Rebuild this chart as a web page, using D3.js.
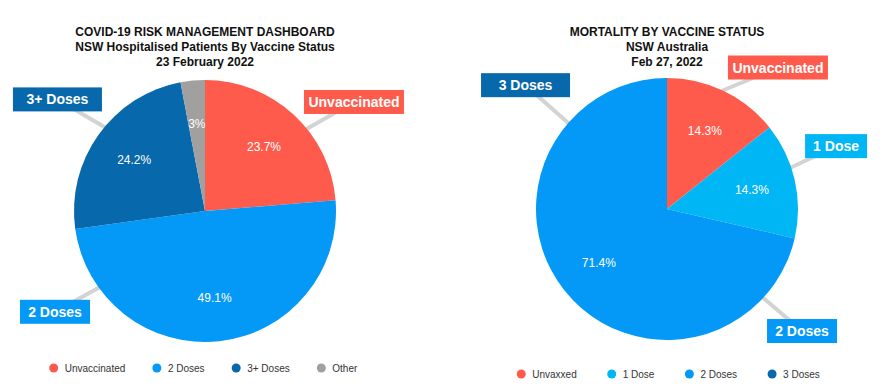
<!DOCTYPE html>
<html>
<head>
<meta charset="utf-8">
<script src="https://cdn.jsdelivr.net/npm/d3@7"></script>
<style>
  html, body { margin: 0; padding: 0; background: #fff; }
  svg { display: block; font-family: "Liberation Sans", Arial, Helvetica, sans-serif; }
</style>
</head>
<body>
<svg id="chart" width="885" height="392"></svg>
<script>
// ---------- DATA ----------
const leftTitle = ["COVID-19 RISK MANAGEMENT DASHBOARD", "NSW Hospitalised Patients By Vaccine Status", "23 February 2022"];
const leftCategories = ["Unvaccinated", "2 Doses", "3+ Doses", "Other"];
const leftValues = [23.7, 49.1, 24.2, 3];
const leftCallouts = ["Unvaccinated", "2 Doses", "3+ Doses", null];
const leftColors = ["#FF5B4D", "#0499F7", "#0868AC", "#A0A0A0"];

const rightTitle = ["MORTALITY BY VACCINE STATUS", "NSW Australia", "Feb 27, 2022"];
const rightCategories = ["Unvaxxed", "1 Dose", "2 Doses", "3 Doses"];
const rightValues = [14.3, 14.3, 71.4, 0];
const rightCallouts = ["Unvaccinated", "1 Dose", "2 Doses", "3 Doses"];
const rightColors = ["#FF5B4D", "#00B6F5", "#0499F7", "#0868AC"];

// ---------- LAYOUT (not data) ----------
const R = 131;
const leftLayout = {
  cx: 205, cy: 211, legendCx: 210, legendY: 368, legendGap: 31.6,
  // callout: anchor angle on rim (deg), box angle (deg), box radius, box width
  callout: [
    { a: 51, ba: 53.8, br: 184.6, w: 100 },
    { a: 234, ba: 236.1, br: 180.7, w: 70 },
    { a: 310, ba: 307.1, br: 185, w: 89 },
    null
  ]
};
const rightLayout = {
  cx: 667, cy: 209, legendCx: 675, legendY: 374, legendGap: 35,
  callout: [
    { a: 24.4, ba: 38.1, br: 179.8, w: 100 },
    { a: 71.6, ba: 69.6, br: 180.4, w: 62 },
    { a: 132.8, ba: 132.1, br: 182, w: 70 },
    { a: 311, ba: 311.2, br: 188, w: 89 }
  ]
};

const svg = d3.select("#chart");

function polar(cx, cy, r, deg) {
  const t = deg * Math.PI / 180;
  return [cx + r * Math.sin(t), cy - r * Math.cos(t)];
}

function drawPie(titleLines, cats, vals, callouts, colors, L) {
  const g = svg.append("g");
  // title
  const title = g.append("text")
    .attr("x", L.cx).attr("y", 36)
    .attr("text-anchor", "middle")
    .attr("font-size", 12).attr("font-weight", "bold").attr("fill", "#111");
  titleLines.forEach((t, i) => {
    title.append("tspan").attr("x", L.cx).attr("dy", i === 0 ? 0 : 15).text(t);
  });

  const pie = d3.pie().sort(null).value(d => d)(vals);
  const arc = d3.arc().innerRadius(0).outerRadius(R);
  const labelArc = d3.arc().innerRadius(R * 0.665).outerRadius(R * 0.665);
  const color = d3.scaleOrdinal().domain(cats).range(colors);

  // leader lines (below slices & boxes)
  const lines = g.append("g");
  callouts.forEach((c, i) => {
    const lay = L.callout[i];
    if (!c || !lay) return;
    const p0 = polar(L.cx, L.cy, R - 2, lay.a);
    const p1 = polar(L.cx, L.cy, lay.br, lay.ba);
    lines.append("line")
      .attr("x1", p0[0]).attr("y1", p0[1])
      .attr("x2", p1[0]).attr("y2", p1[1])
      .attr("stroke", "#D3D3D3").attr("stroke-width", 4);
  });

  const slices = g.append("g").attr("transform", `translate(${L.cx},${L.cy})`);
  slices.selectAll("path").data(pie).join("path")
    .attr("d", arc)
    .attr("fill", (d, i) => color(cats[i]));

  slices.selectAll("text").data(pie.filter(d => d.value > 0)).join("text")
    .attr("transform", d => `translate(${labelArc.centroid(d)})`)
    .attr("text-anchor", "middle")
    .attr("dy", "0.35em")
    .attr("font-size", 12)
    .attr("fill", "#fff")
    .text(d => `${d.value}%`);

  // callout boxes
  callouts.forEach((c, i) => {
    const lay = L.callout[i];
    if (!c || !lay) return;
    const p = polar(L.cx, L.cy, lay.br, lay.ba);
    const h = 24;
    g.append("rect")
      .attr("x", p[0] - lay.w / 2).attr("y", p[1] - h / 2)
      .attr("width", lay.w).attr("height", h)
      .attr("fill", color(cats[i]));
    g.append("text")
      .attr("x", p[0]).attr("y", p[1])
      .attr("dy", "0.36em")
      .attr("text-anchor", "middle")
      .attr("font-size", 14).attr("font-weight", "bold")
      .attr("fill", "#fff")
      .text(c);
  });

  // legend
  const leg = g.append("g");
  const items = cats.map((c, i) => {
    const it = leg.append("g");
    it.append("circle").attr("r", 4.5).attr("fill", color(c));
    const t = it.append("text").attr("x", 11).attr("y", 3.6)
      .attr("font-size", 10).attr("fill", "#333").text(c);
    return { it, w: t.node().getComputedTextLength() };
  });
  const gap = L.legendGap;
  let total = 0;
  items.forEach((d, i) => { total += 4.5 + 11 + d.w + (i < items.length - 1 ? gap : 0); });
  let x = L.legendCx - total / 2 + 4.5;
  items.forEach(d => {
    d.it.attr("transform", `translate(${x},${L.legendY})`);
    x += 11 + d.w + gap;
  });
}

drawPie(leftTitle, leftCategories, leftValues, leftCallouts, leftColors, leftLayout);
drawPie(rightTitle, rightCategories, rightValues, rightCallouts, rightColors, rightLayout);
</script>
</body>
</html>
